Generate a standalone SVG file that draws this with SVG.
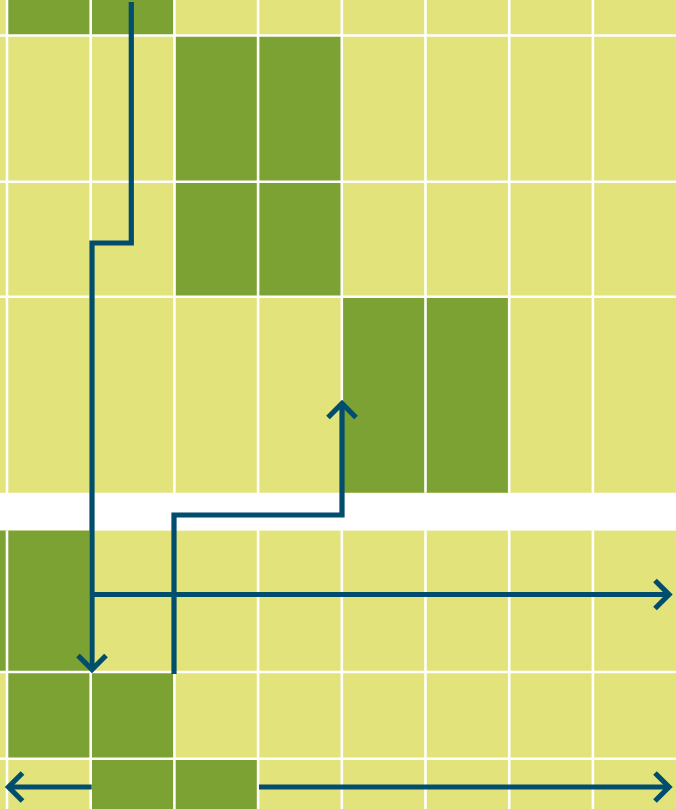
<svg xmlns="http://www.w3.org/2000/svg" width="676" height="809" viewBox="0 0 676 809">
  <style>
    .y { fill: #E2E37A; }
    .g { fill: #7BA233; }
    .wl { stroke: #FFFFFF; stroke-width: 2.6; fill: none; }
    .c { stroke: #004D6D; stroke-width: 5.2; fill: none; stroke-linejoin: miter; stroke-linecap: butt; }
  </style>
  <defs>
    <marker id="arr" viewBox="-20 -20 40 40" refX="0" refY="0" markerWidth="40" markerHeight="40" markerUnits="userSpaceOnUse" orient="auto" overflow="visible">
      <path d="M-14,-14 L0,0 L-14,14" fill="none" stroke="#004D6D" stroke-width="5.2" stroke-linejoin="miter"/>
    </marker>
  </defs>
  <rect x="0" y="0" width="676" height="809" fill="#FFFFFF"/>
  <g id="upper-grid">
    <rect class="y" x="0" y="0" width="676" height="492.7"/>
    <rect class="g" x="8" y="0" width="166" height="35.5"/>
    <rect class="g" x="175.7" y="35.5" width="166" height="261.3"/>
    <rect class="g" x="343" y="296.8" width="166" height="195.9"/>
    <path class="wl" d="M7,0V492.7 M90.7,0V492.7 M174.4,0V492.7 M258.1,0V492.7 M341.8,0V492.7 M425.5,0V492.7 M509.2,0V492.7 M592.9,0V492.7"/>
    <path class="wl" d="M0,35.5H676 M0,181.7H676 M0,296.8H676"/>
  </g>
  <g id="lower-grid">
    <rect class="y" x="0" y="530.6" width="676" height="278.4"/>
    <rect class="g" x="0" y="530.6" width="90" height="141.4"/>
    <rect class="g" x="8" y="672" width="166" height="86.7"/>
    <rect class="g" x="91.5" y="758.7" width="166" height="50.3"/>
    <path class="wl" d="M7,530.6V809 M90.7,530.6V809 M174.4,530.6V809 M258.1,530.6V809 M341.8,530.6V809 M425.5,530.6V809 M509.2,530.6V809 M592.9,530.6V809"/>
    <path class="wl" d="M0,672H676 M0,758.7H676"/>
  </g>
  <g id="connectors">
    <path class="c" d="M131.3,2 V243 H92 V669.5" marker-end="url(#arr)"/>
    <path class="c" d="M174,674 V515 H342 V403.5" marker-end="url(#arr)"/>
    <path class="c" d="M92,594.5 H669" marker-end="url(#arr)"/>
    <path class="c" d="M91.7,787 H8.5" marker-end="url(#arr)"/>
    <path class="c" d="M259,787 H669" marker-end="url(#arr)"/>
  </g>
</svg>
